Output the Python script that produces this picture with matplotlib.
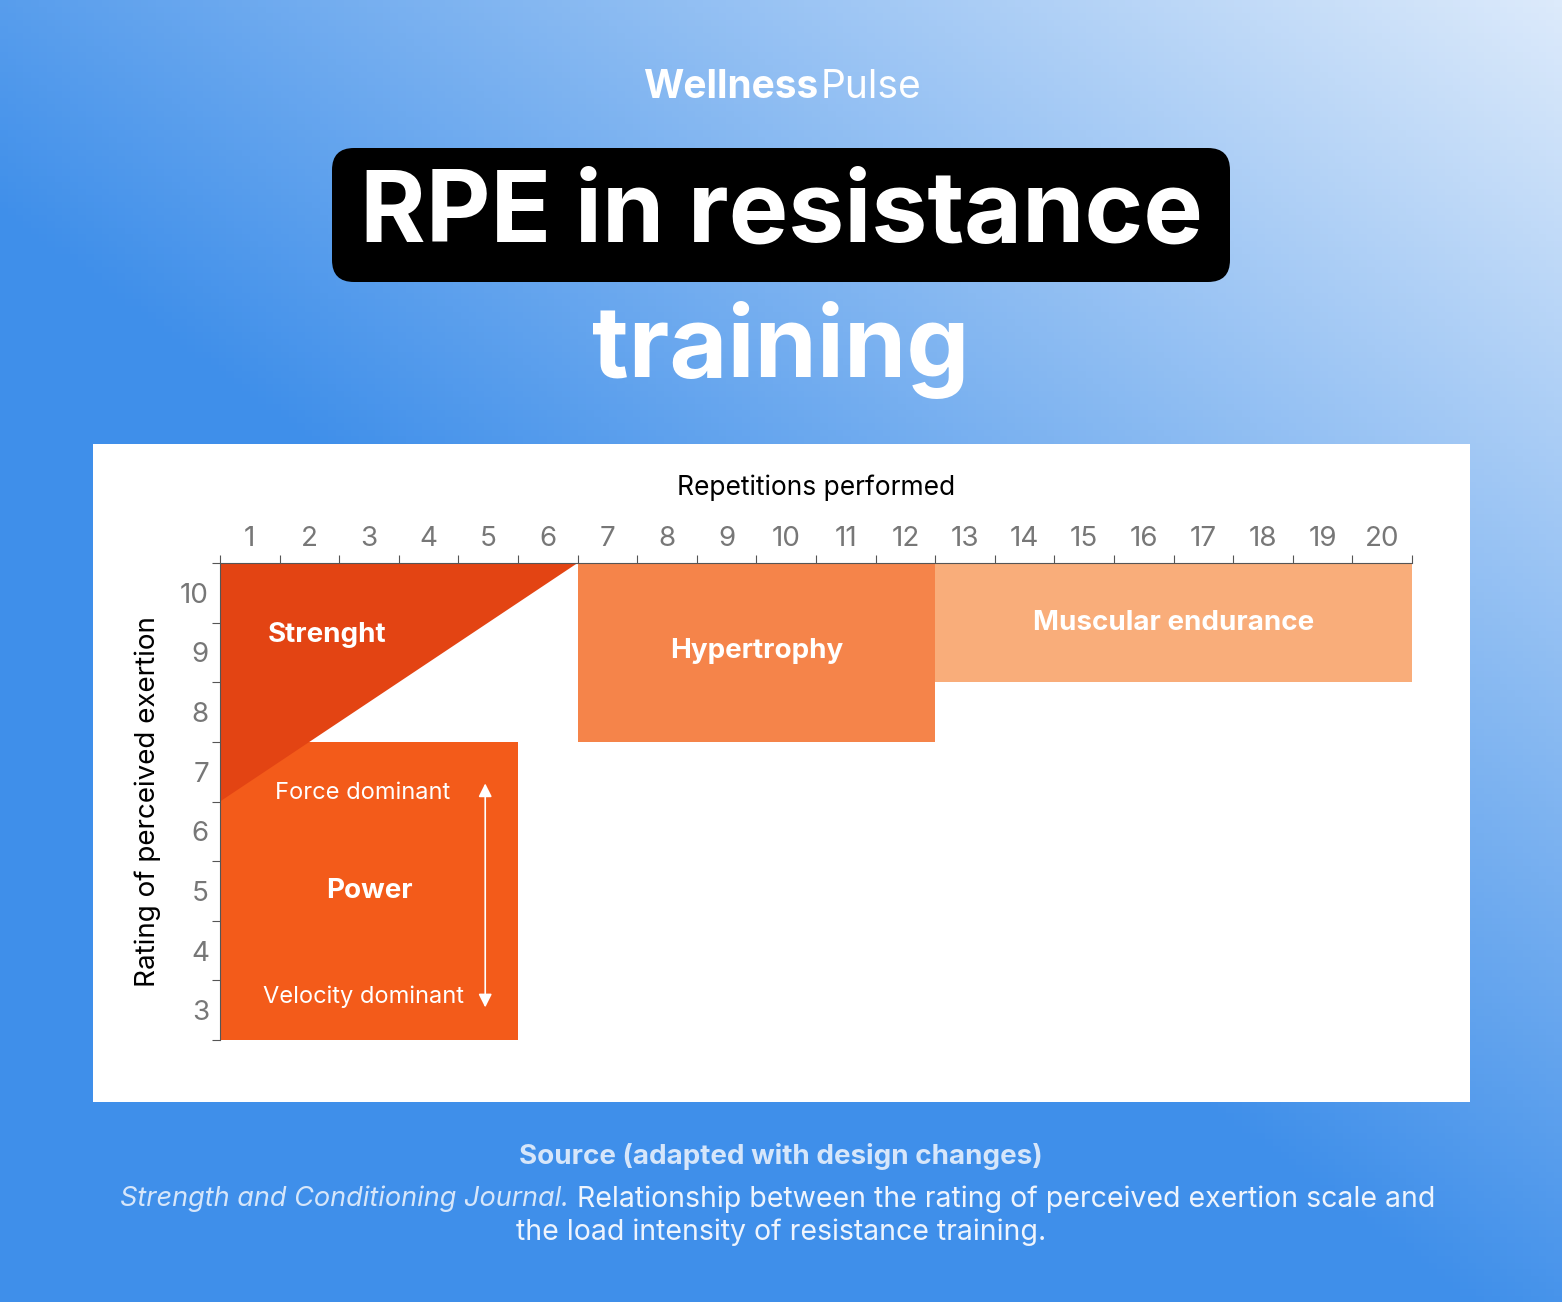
import numpy as np
import matplotlib.pyplot as plt
from matplotlib.patches import FancyBboxPatch, Polygon, Rectangle

W, H = 1562, 1302
rep_labels = [str(i) for i in range(1, 21)]
rpe_labels = [str(i) for i in range(3, 11)]

# zones: (name, x0, x1, y0, y1, colour)
zone_names = ["Power", "Hypertrophy", "Muscular endurance"]
zone_x = [(0, 5), (6, 12), (12, 20)]
zone_y = [(2.5, 7.5), (7.5, 10.5), (8.5, 10.5)]
zone_colors = ["#F35B1A", "#F5844A", "#F9AD7A"]
strength_tri = [(0, 10.5), (6, 10.5), (0, 6.5)]

fig = plt.figure(figsize=(W / 100, H / 100), dpi=100)

# gradient background: dark blue bottom/left, light top-right
bg = fig.add_axes([0, 0, 1, 1])
yy, xx = np.mgrid[0:1:200j, 0:1:200j]
t = np.clip((xx * 0.8 + yy * 0.9 - 0.75) / 0.95, 0, 1)
c0 = np.array([0x3F, 0x8F, 0xEA]) / 255
c1 = np.array([0xDC, 0xEA, 0xFB]) / 255
img = c0 + (c1 - c0) * t[..., None]
bg.imshow(img, extent=[0, W, 0, H], origin="lower", aspect="auto")
bg.set_xlim(0, W); bg.set_ylim(0, H); bg.axis("off")

def py(y):
    return H - y

bg.text(818, py(88), "Wellness", fontsize=28, fontweight="bold", color="white",
        ha="right", va="center", family="Inter")
bg.text(821, py(88), "Pulse", fontsize=28, color="white", ha="left", va="center", family="Inter")
bg.add_patch(FancyBboxPatch((332, py(282)), 898, 134, boxstyle="round,pad=0,rounding_size=22",
                            fc="black", ec="none"))
bg.text(781, py(216), "RPE in resistance", fontsize=72, fontweight="bold", color="white",
        ha="center", va="center", family="Inter")
bg.text(781, py(350), "training", fontsize=72, fontweight="bold", color="white",
        ha="center", va="center", family="Inter")
bg.add_patch(Rectangle((93, py(1102)), 1377, 658, fc="white", ec="none"))
bg.text(781, py(1156), "Source (adapted with design changes)", fontsize=20, fontweight="bold",
        color="#D6E6FA", ha="center", va="center", family="Inter")
bg.text(120, py(1199), "Strength and Conditioning Journal.", fontsize=19.5, style="italic",
        color="#D6E6FA", ha="left", va="center", family="Inter")
bg.text(577, py(1199), "Relationship between the rating of perceived exertion scale and",
        fontsize=20.5, color="#EEF4FD", ha="left", va="center", family="Inter")
bg.text(781, py(1232), "the load intensity of resistance training.", fontsize=20.5,
        color="#EEF4FD", ha="center", va="center", family="Inter")

# chart axes: x 220..1412 px, y 563..1040 px
ax = fig.add_axes([220 / W, 1 - 1040 / H, (1412 - 220) / W, (1040 - 563) / H])
ax.set_xlim(0, 20)
ax.set_ylim(2.5, 10.5)
ax.patch.set_alpha(0)
for (x0, x1), (y0, y1), c in zip(zone_x, zone_y, zone_colors):
    ax.add_patch(Rectangle((x0, y0), x1 - x0, y1 - y0, fc=c, ec="none"))
ax.add_patch(Polygon(strength_tri, fc="#E34413", ec="none"))

tf = dict(color="white", fontweight="bold", fontsize=20, family="Inter", ha="center", va="center")
ax.text(1.8, 9.3, "Strenght", **tf)
ax.text(2.5, 5.0, "Power", **tf)
ax.text(9, 9.02, "Hypertrophy", **tf)
ax.text(16, 9.5, "Muscular endurance", **tf)
sf = dict(color="white", fontsize=17, family="Inter", ha="center", va="center")
ax.text(2.4, 6.64, "Force dominant", **sf)
ax.text(2.4, 3.22, "Velocity dominant", **sf)
ax.annotate("", xy=(4.45, 6.85), xytext=(4.45, 3.0),
            arrowprops=dict(arrowstyle="<|-|>", color="white", lw=1.2, mutation_scale=20))

ax.xaxis.tick_top()
ax.set_xticks(np.arange(0, 21))
ax.set_xticklabels([])
ax.set_xticks(np.arange(0.5, 20), labels=rep_labels, minor=True)
ax.set_yticks(np.arange(2.5, 11))
ax.set_yticklabels([])
ax.set_yticks(np.arange(3, 11), labels=rpe_labels, minor=True)
ax.tick_params(which="major", length=6, color="#555555", direction="out")
ax.tick_params(which="minor", length=0, labelsize=20, labelcolor="#777777", pad=8)
for lab in ax.get_xticklabels(minor=True) + ax.get_yticklabels(minor=True):
    lab.set_family("Inter")
for s in ["right", "bottom"]:
    ax.spines[s].set_visible(False)
for s in ["top", "left"]:
    ax.spines[s].set_color("#555555")
ax.set_xlabel("Repetitions performed", fontsize=19, family="Inter", labelpad=22)
ax.xaxis.set_label_position("top")
ax.set_ylabel("Rating of perceived exertion", fontsize=20, family="Inter", labelpad=14)

fig.savefig("out.png", dpi=100)
